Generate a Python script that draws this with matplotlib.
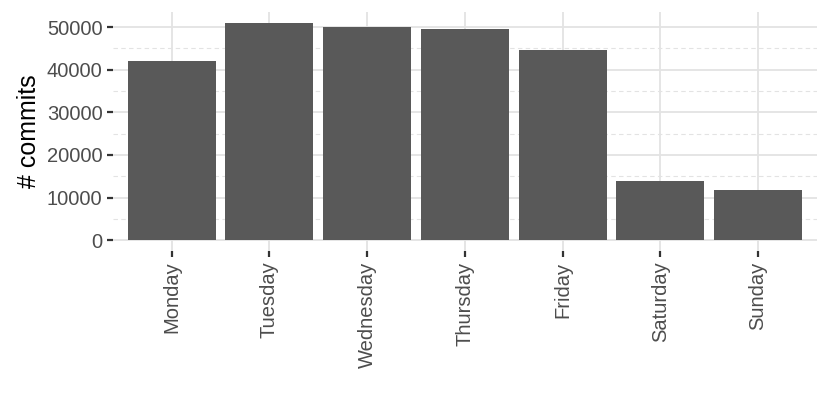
import matplotlib
matplotlib.use("Agg")
import matplotlib.pyplot as plt
from matplotlib.ticker import MultipleLocator

plt.rcParams["font.family"] = ["Liberation Sans", "DejaVu Sans"]

days = ["Monday", "Tuesday", "Wednesday", "Thursday", "Friday", "Saturday", "Sunday"]
commits = [42000, 51000, 50100, 49500, 44700, 14000, 11800]
y_ticks = [0, 10000, 20000, 30000, 40000, 50000]

fig = plt.figure(figsize=(8.3, 4.15), dpi=100)
ax = fig.add_axes([0.136, 0.395, 0.848, 0.576])

x = list(range(len(days)))
ax.bar(x, commits, width=0.9, color="#595959", zorder=3)

ymax = max(commits)
ax.set_ylim(-0.05 * ymax, ymax * 1.05)
ax.set_xlim(-0.6, len(days) - 1 + 0.6)

ax.set_yticks(y_ticks)
ax.set_yticklabels([str(v) for v in y_ticks])
ax.yaxis.set_minor_locator(MultipleLocator(5000))
ax.set_xticks(x)
ax.set_xticklabels(days, rotation=90)

ax.grid(which="major", axis="both", color="#E3E3E3", linewidth=1.3, zorder=0)
ax.grid(which="minor", axis="y", color="#E3E3E3", linewidth=0.8, linestyle=(0, (4, 3)), zorder=0)

for s in ax.spines.values():
    s.set_visible(False)

ax.tick_params(axis="both", which="major", length=4.5, width=1.6, color="#333333",
               labelcolor="#4D4D4D", labelsize=14.5, pad=3)
ax.tick_params(axis="y", which="minor", length=0)

ax.set_ylabel("# commits", fontsize=18, color="black", labelpad=4)

fig.savefig("out.png", dpi=100)
